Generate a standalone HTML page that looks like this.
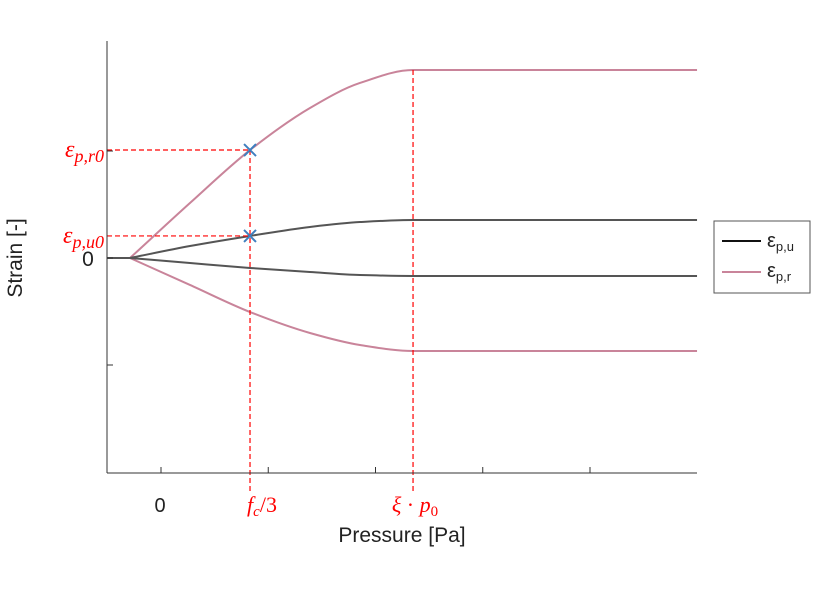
<!DOCTYPE html>
<html><head><meta charset="utf-8"><style>
body{margin:0;background:#fff;width:826px;height:591px;overflow:hidden}
svg{display:block}
text{font-family:"Liberation Sans",sans-serif}
.ser{font-family:"Liberation Serif",serif;font-style:italic;fill:#f00}
</style></head><body>
<svg id="chart" width="826" height="591">
<g id="marks"></g>
<line x1="107" y1="41" x2="107" y2="473" stroke="#333" stroke-width="1"/>
<line x1="107" y1="473" x2="697" y2="473" stroke="#333" stroke-width="1"/>
<g id="ticks"></g>
<text x="160" y="512" font-size="20" text-anchor="middle" fill="#222">0</text>
<text x="262" y="512" font-size="22" text-anchor="middle" class="ser">f<tspan font-size="15" dy="4">c</tspan><tspan dy="-4" font-style="normal">/3</tspan></text>
<text x="415" y="512" font-size="22" text-anchor="middle" class="ser">ξ <tspan font-style="normal">·</tspan> p<tspan font-size="15" dy="4" font-style="normal">0</tspan></text>
<text x="402" y="542" font-size="21" text-anchor="middle" fill="#222">Pressure [Pa]</text>
<text x="88" y="266" font-size="21" text-anchor="middle" fill="#222">0</text>
<text transform="translate(22,258) rotate(-90)" font-size="21" text-anchor="middle" fill="#222">Strain [-]</text>
<text x="104" y="157" font-size="24" text-anchor="end" class="ser">ε<tspan font-size="18" dy="5">p,r0</tspan></text>
<text x="104" y="243" font-size="24" text-anchor="end" class="ser">ε<tspan font-size="18" dy="5">p,u0</tspan></text>
<g>
<rect x="714" y="221" width="96" height="72" fill="#fff" stroke="#555"/>
<line x1="722" y1="241" x2="761" y2="241" stroke="#111" stroke-width="2"/>
<text x="767" y="247" font-size="20" fill="#222">ε<tspan font-size="13" dy="4">p,u</tspan></text>
<line x1="722" y1="272" x2="761" y2="272" stroke="#c9849a" stroke-width="2"/>
<text x="767" y="277" font-size="20" fill="#222">ε<tspan font-size="13" dy="4">p,r</tspan></text>
</g>
</svg>
<script>
const xVals=[-0.503,-0.289,0.270,0.830,1.389,1.855,2.350,4.998];
const pinkUpper=[0,0,0.514,1.009,1.402,1.636,1.757,1.757];
const darkUpper=[0,0,0.112,0.206,0.290,0.336,0.355,0.355];
const darkLower=[0,0,-0.047,-0.093,-0.131,-0.159,-0.168,-0.168];
const pinkLower=[0,0,-0.252,-0.505,-0.701,-0.813,-0.869,-0.869];
const xTicks=[0,1,2,3,4];
const yTicks=[1,0,-1];
const fcX=0.830, xiX=2.350;
const markersY=[1.009,0.206];
const X=v=>161+107.25*v, Y=v=>258-107*v;
const NS="http://www.w3.org/2000/svg";
const g=document.getElementById('marks'), tg=document.getElementById('ticks');
function mk(t,a,p){const e=document.createElementNS(NS,t);for(const k in a)e.setAttribute(k,a[k]);(p||g).appendChild(e);return e;}
function path(xs,ys){
  const n=xs.length, S=[], M=[];
  for(let i=0;i<n-1;i++)S.push((ys[i+1]-ys[i])/(xs[i+1]-xs[i]));
  for(let i=0;i<n;i++){
    if(i==0){M.push(S[0]);continue;}
    if(i==n-1){M.push(S[n-2]);continue;}
    const a=S[i-1],b=S[i];
    if(a==0&&b!=0)M.push(b);
    else if(b==0||a*b<=0)M.push(0);
    else M.push(2*a*b/(a+b));
  }
  let d=`M${X(xs[0])},${Y(ys[0])}`;
  for(let i=0;i<n-1;i++){const h=xs[i+1]-xs[i];
    if(S[i]==0){d+=` L${X(xs[i+1])},${Y(ys[i+1])}`;continue;}
    d+=` C${X(xs[i]+h/3)},${Y(ys[i]+M[i]*h/3)} ${X(xs[i+1]-h/3)},${Y(ys[i+1]-M[i+1]*h/3)} ${X(xs[i+1])},${Y(ys[i+1])}`;}
  return d;}
let e;
e=mk('path',{d:path(xVals,pinkUpper),fill:'none',stroke:'#c9849a','stroke-width':2});


e=mk('path',{d:path(xVals,pinkLower),fill:'none',stroke:'#c9849a','stroke-width':2});


e=mk('path',{d:path(xVals,darkUpper),fill:'none',stroke:'#555','stroke-width':2});


e=mk('path',{d:path(xVals,darkLower),fill:'none',stroke:'#555','stroke-width':2});


const da={stroke:'#f00','stroke-width':1.2,'stroke-dasharray':'5,3',fill:'none'};
markersY.forEach((m,i)=>{e=mk('line',Object.assign({x1:107,x2:X(fcX),y1:Y(m),y2:Y(m)},da));

});
e=mk('line',Object.assign({x1:X(fcX),x2:X(fcX),y1:Y(markersY[0]),y2:492},da));


e=mk('line',Object.assign({x1:X(xiX),x2:X(xiX),y1:Y(pinkUpper[6]),y2:492},da));


markersY.forEach((m,i)=>{const cx=X(fcX),cy=Y(m),s=6;
e=mk('path',{d:`M${cx-s},${cy-s}L${cx+s},${cy+s}M${cx-s},${cy+s}L${cx+s},${cy-s}`,stroke:'#3f7fbf','stroke-width':2});

});
xTicks.forEach(t=>{e=mk('line',{x1:X(t),x2:X(t),y1:473,y2:467,stroke:'#333'},tg);

});
yTicks.forEach(t=>{e=mk('line',{x1:107,x2:113,y1:Y(t),y2:Y(t),stroke:'#333'},tg);

});
</script>
</body></html>
